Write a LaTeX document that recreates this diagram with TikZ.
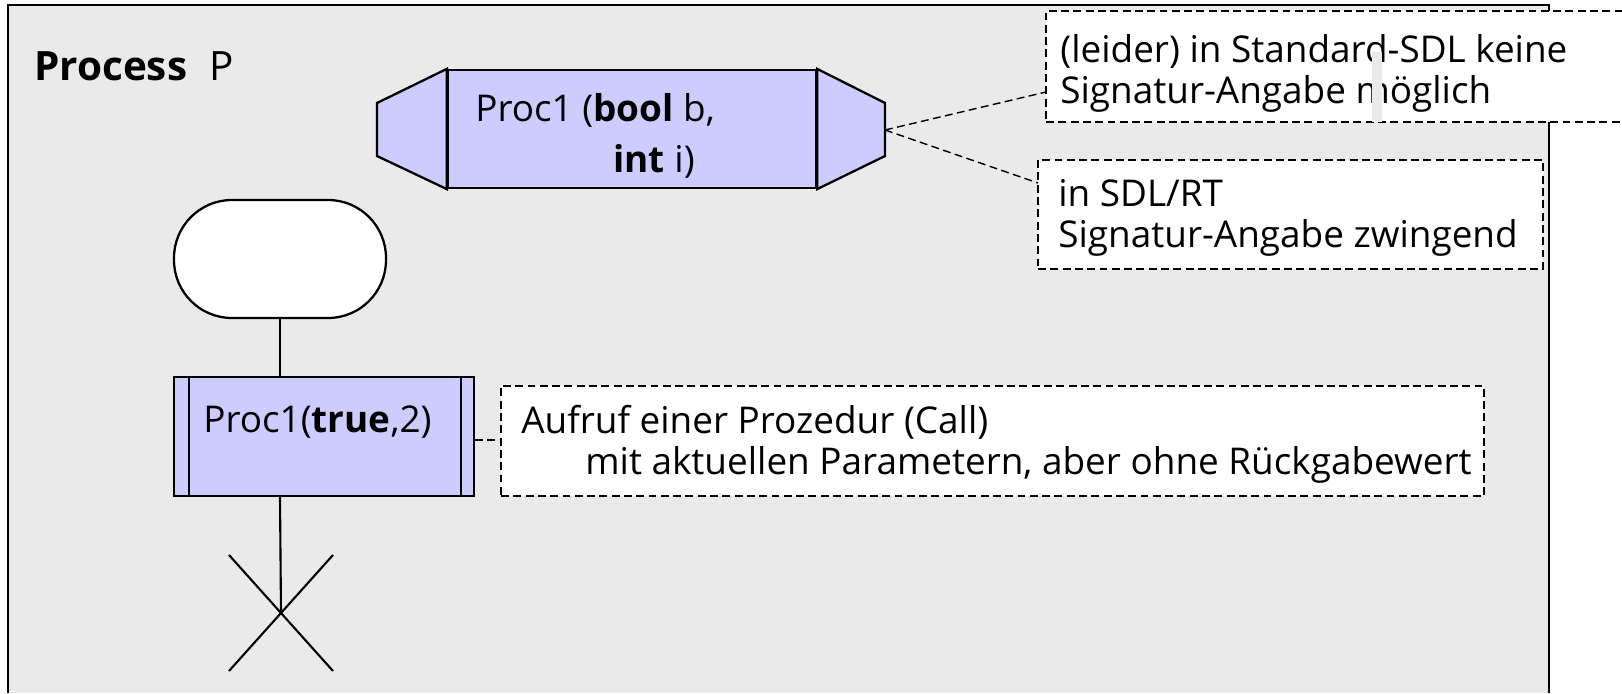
\documentclass[tikz,border=0pt]{standalone}
\usepackage{fontspec}
\setmainfont{Open Sans}
\usetikzlibrary{fit}

\definecolor{procfill}{RGB}{204,204,255}
\definecolor{procbg}{RGB}{234,234,234}

\tikzset{
  sdlbox/.style={draw, line width=1.3pt, fill=procfill, inner sep=0pt},
  startbox/.style={draw, line width=1.3pt, fill=white, inner sep=0pt, rounded corners=33pt},
  notebox/.style={draw, line width=0.8pt, dash pattern=on 4.5pt off 2.5pt, fill=white, inner sep=0pt},
  notelink/.style={line width=0.8pt, dash pattern=on 4.5pt off 2.5pt},
  flowline/.style={line width=1.2pt},
  sdltext/.style={anchor=base west, inner sep=0pt, font=\fontsize{21}{23.3}\selectfont},
}

\begin{document}
\begin{tikzpicture}[x=0.02cm, y=-0.02cm]
    \useasboundingbox (0,0) rectangle (1622,693);

    % Rahmen des Prozesses
    \fill[procbg] (8,5) rectangle (1549,693);
    \draw[line width=1pt] (8,693) -- (8,5) -- (1549,5) -- (1549,693);
    \node[sdltext, font=\fontsize{23}{26}\selectfont] (title) at (34,80) {\textbf{Process}\hspace{13pt}P};

    % Prozedurdefinition
    \node[sdlbox, fit={(448,70) (816,188)}] (procdef) {};
    \draw[sdlbox] (procdef.north west) -- (377,103) -- (377,156) -- (procdef.south west) -- cycle;
    \draw[sdlbox] (procdef.north east) -- (885,103) -- (885,156) -- (procdef.south east) -- cycle;
    \coordinate (procdef-tip) at (885,130);
    \node[sdltext] (procdef-l1) at (475,121) {Proc1 (\textbf{bool} b,};
    \node[sdltext] (procdef-l2) at (613,172) {\textbf{int} i)};

    % Start, Prozeduraufruf, Stop
    \node[startbox, fit={(174,200) (386,318)}] (start) {};
    \node[sdlbox, fit={(174,377) (474,496)}] (proccall) {};
    \draw[flowline] (proccall.north west) ++(16,0) -- ++(0,119);
    \draw[flowline] (proccall.north east) ++(-14,0) -- ++(0,119);
    \node[sdltext] (proccall-txt) at (203,432) {Proc1(\textbf{true},2)};
    \coordinate (stop) at (281,613);

    \draw[flowline] (start.south) -- (start.south |- proccall.north);
    \draw[flowline] (start.south |- proccall.south) -- (stop);
    \draw[flowline] (stop) +(-52,-58) -- +(52,58);
    \draw[flowline] (stop) +(52,-58) -- +(-52,58);

    % Kommentare
    \node[notebox, fit={(1046,11) (1660,122)}] (notestd) {};
    \node[sdltext] (notestd-l1) at (1060,62) {(leider) in Standard-SDL keine};
    \node[sdltext] (notestd-l2) at (1060,103) {Signatur-Angabe möglich};
    \fill[procbg] (1372,52) rectangle (1382,122);

    \node[notebox, fit={(1038,160) (1543,269)}] (notert) {};
    \node[sdltext] (notert-l1) at (1058,206) {in SDL/RT};
    \node[sdltext] (notert-l2) at (1058,247) {Signatur-Angabe zwingend};

    \node[notebox, fit={(501,386) (1484,496)}] (notecall) {};
    \node[sdltext] (notecall-l1) at (521,433) {Aufruf einer Prozedur (Call)};
    \node[sdltext] (notecall-l2) at (585,474) {mit aktuellen Parametern, aber ohne Rückgabewert};

    \coordinate (stdpin) at (1046,92);
    \coordinate (rtpin) at (1038,183);
    \draw[notelink] (procdef-tip) -- (stdpin);
    \draw[notelink] (procdef-tip) -- (rtpin);
    \draw[notelink] (proccall.east |- 0,440) -- (notecall.west |- 0,440);
\end{tikzpicture}
\end{document}
